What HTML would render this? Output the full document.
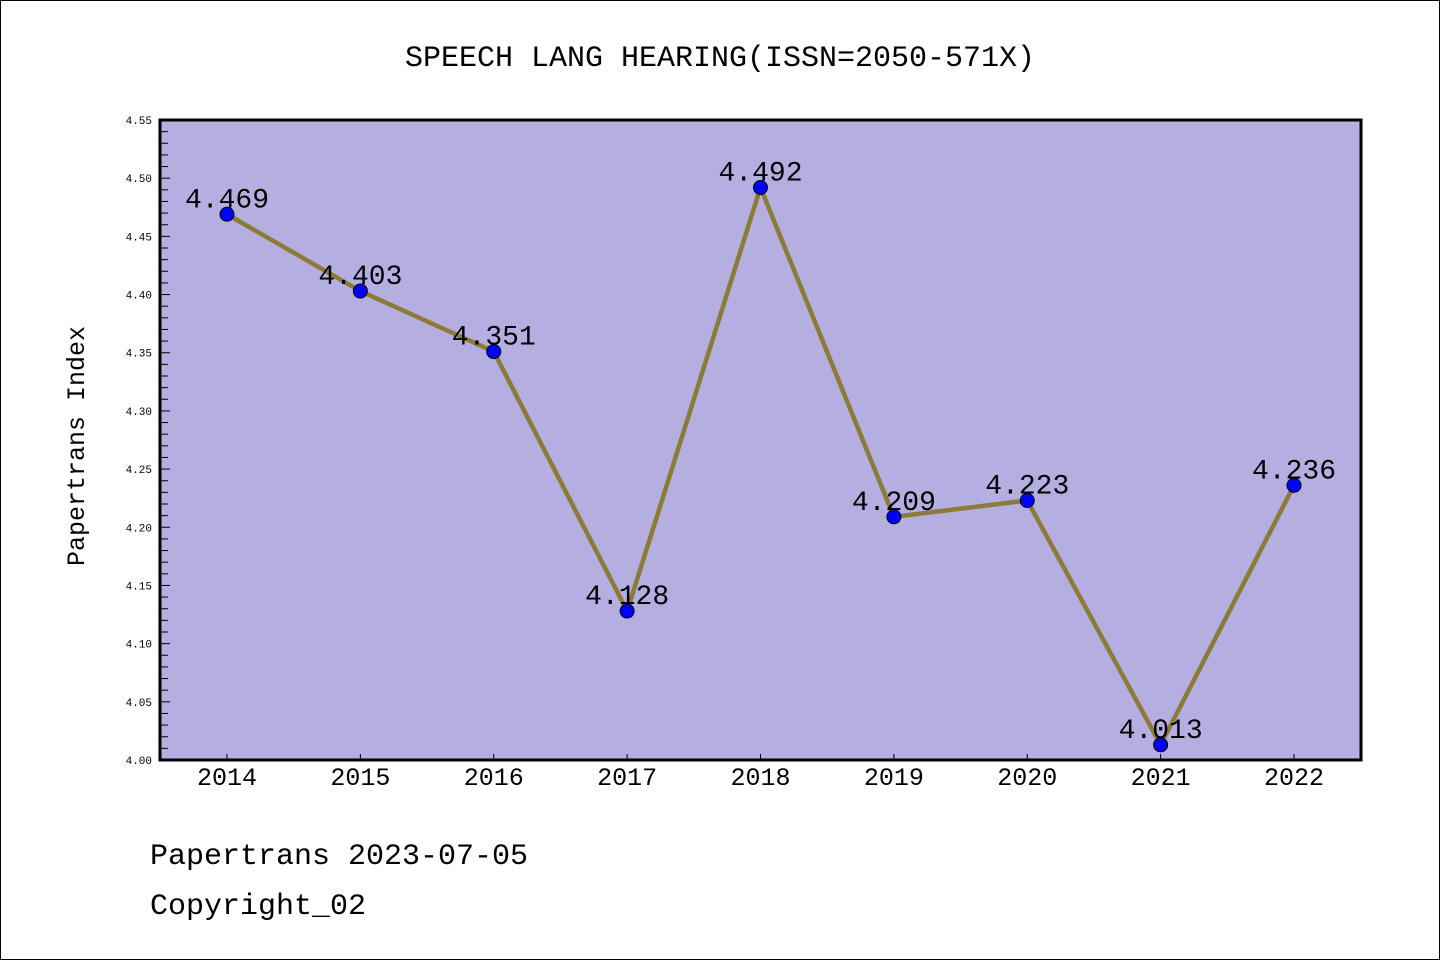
<!DOCTYPE html>
<html><head><meta charset="utf-8"><style>
html,body{margin:0;padding:0;background:#fff}
svg{display:block}
text{font-family:"Liberation Mono","WenQuanYi Zen Hei",monospace}
</style></head><body>
<svg id="chart" width="1440" height="960" xmlns="http://www.w3.org/2000/svg">
<rect x="0.5" y="0.5" width="1439" height="959" fill="#fff" stroke="#000"/>
<text x="720" y="66" font-size="30" text-anchor="middle">SPEECH LANG HEARING(ISSN=2050-571X)</text>
<rect x="160" y="120" width="1201" height="640" fill="#b5aee1"/>
<g id="yaxis"></g>
<g id="xaxis"></g>
<g id="series"></g>
<rect x="160" y="120" width="1201" height="640" fill="none" stroke="#000" stroke-width="3"/>
<text transform="translate(84,446) rotate(-90)" font-size="25" text-anchor="middle">Papertrans Index</text>
<text x="150" y="864" font-size="30">Papertrans 2023-07-05</text>
<text x="150" y="914" font-size="30">Copyright_02</text>
</svg>
<script>
const categories=["2014","2015","2016","2017","2018","2019","2020","2021","2022"];
const values=[4.469,4.403,4.351,4.128,4.492,4.209,4.223,4.013,4.236];
const valueLabels=["4.469","4.403","4.351","4.128","4.492","4.209","4.223","4.013","4.236"];
const yTicks=["4.00","4.05","4.10","4.15","4.20","4.25","4.30","4.35","4.40","4.45","4.50","4.55"];
const NS="http://www.w3.org/2000/svg";
const yMin=4.0,yMax=4.55,plotTop=120,plotBot=760,x0=227,x1=1294;
function sy(v){return plotBot-(v-yMin)/(yMax-yMin)*(plotBot-plotTop);}
function sx(i){return x0+i*(x1-x0)/(categories.length-1);}
function mk(tag,attrs,parent){const e=document.createElementNS(NS,tag);for(const k in attrs)e.setAttribute(k,attrs[k]);parent.appendChild(e);return e;}
const ya=document.getElementById('yaxis'),xa=document.getElementById('xaxis'),sg=document.getElementById('series');
for(let k=0;k<=55;k++){const v=yMin+k*0.01;const yy=sy(v);const major=k%5===0;
 const t=mk('line',{x1:160,x2:160+(major?10:8),y1:yy,y2:yy,stroke:'#000','stroke-width':1},ya);
 
 }
yTicks.forEach(s=>{const t=mk('text',{x:152,y:sy(parseFloat(s))+4,'font-size':11,'text-anchor':'end'},ya);t.textContent=s;
 
 });
categories.forEach((c,i)=>{const l=mk('line',{x1:sx(i),x2:sx(i),y1:plotBot,y2:plotBot-6,stroke:'#000','stroke-width':1},xa);
 
 
 const t=mk('text',{x:sx(i),y:785,'font-size':25,'text-anchor':'middle'},xa);t.textContent=c;
 
 });
const pl=mk('polyline',{points:values.map((v,i)=>sx(i)+','+sy(v)).join(' '),fill:'none',stroke:'#8c7b36','stroke-width':4.5},sg);


values.forEach((v,i)=>{const c=mk('circle',{cx:sx(i),cy:sy(v),r:7,fill:'#0000ff',stroke:'#000','stroke-width':1},sg);
 
 
 const t=mk('text',{x:sx(i),y:sy(v)-7,'font-size':28,'text-anchor':'middle'},sg);t.textContent=valueLabels[i];
 
 });
</script>
</body></html>
